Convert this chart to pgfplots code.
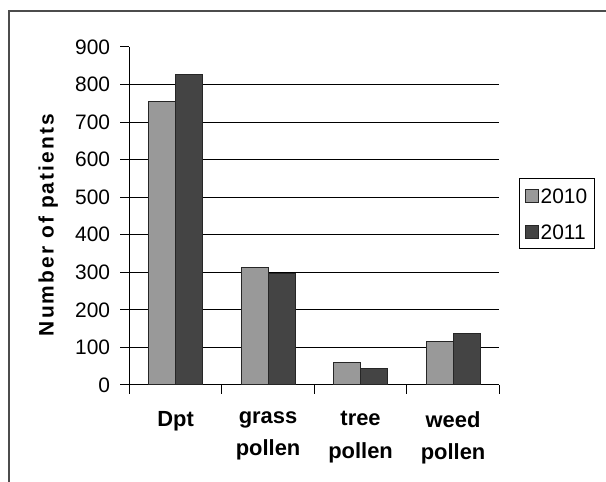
\documentclass[border=0pt]{standalone}
\usepackage{pgfplots}
\pgfplotsset{compat=1.18}
\usepackage{fontspec}
\setmainfont{Liberation Sans}
\newfontfamily\ylabfont[LetterSpace=10]{Liberation Sans}
\definecolor{c2010}{HTML}{999999}
\definecolor{c2011}{HTML}{444444}
\begin{document}
\begin{tikzpicture}[x=1bp,y=1bp]
\useasboundingbox (0,0) rectangle (606,482);
\draw[line width=1.3bp, black!70] (9,-20) -- (9,471) -- (630,471);
\begin{axis}[
  at={(129.3bp,97bp)}, anchor=south west,
  scale only axis, width=370bp, height=338bp,
  ybar=0pt, bar width=27bp,
  xmin=-0.5, xmax=3.5, ymin=0, ymax=900,
  axis x line*=bottom, axis y line*=left,
  axis line style={-, black, line width=1bp},
  xtick={0,1,2,3},
  xticklabels={Dpt, grass\\pollen, tree\\pollen, weed\\pollen},
  x tick label style={align=center, font=\bfseries\fontsize{22}{33}\selectfont, anchor=north, inner sep=0pt, yshift=-17bp},
  major x tick style={draw=none},
  minor xtick={-0.5,0.5,1.5,2.5,3.5},
  minor x tick style={black, line width=1bp},
  minor tick length=9bp,
  ytick={0,100,...,800},
  extra y ticks={900},
  extra y tick style={grid=none},
  ymajorgrids,
  grid style={black, line width=1bp},
  major tick length=9bp,
  tick align=outside,
  y tick style={black, line width=1bp},
  /pgf/number format/assume math mode=true,
  y tick label style={font=\fontsize{21}{25}\selectfont, inner sep=0pt, xshift=-10bp},
  ylabel={\ylabfont\bfseries Number of patients},
  ylabel style={font=\fontsize{21}{25}\selectfont, at={(axis description cs:-0.219,0.473)}, anchor=center, inner sep=0pt},
  legend style={at={(axis description cs:1.053,0.6124)}, anchor=north west,
    draw=black, line width=1bp, font=\fontsize{21}{25}\selectfont,
    inner xsep=6bp, inner ysep=8bp, row sep=18bp,
    nodes={inner sep=1.5bp, text height=15bp, text depth=0bp}},
  legend cell align=left,
  legend image code/.code={\draw[#1, line width=0.8bp] (0bp,-6.5bp) rectangle (13bp,6.5bp);},
]
\addplot[fill=c2010, draw=black!85, line width=1bp] coordinates {(0,756) (1,313) (2,59) (3,115)};
\addplot[fill=c2011, draw=black!85, line width=1bp] coordinates {(0,827) (1,296) (2,43) (3,136)};
\legend{2010,2011}
\end{axis}
\end{tikzpicture}
\end{document}
